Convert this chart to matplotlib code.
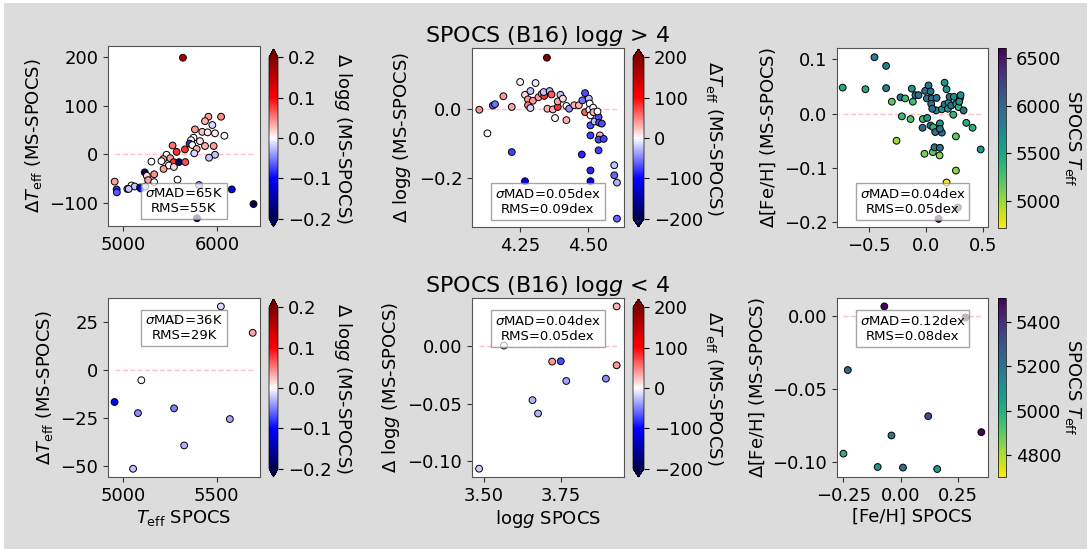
import numpy as np
import matplotlib
matplotlib.use("Agg")
import matplotlib.pyplot as plt
from matplotlib.patches import Rectangle

# ---------------- data: SPOCS (B16) log g > 4 ----------------
# Teff SPOCS, Delta Teff (MS-SPOCS), Delta logg (MS-SPOCS)
teff_hi = [5637, 5908, 6043, 5872, 5950, 5765, 5843, 5900, 5978, 6078,
           5750, 5818, 5723, 5708, 5737, 5872, 5964, 5658, 5783, 5758,
           5978, 5915, 5527, 5570, 5463, 5427, 5502, 5302, 5538, 5594,
           5662, 5409, 5487, 5541, 5431, 5231, 5331, 5253, 5580, 4911,
           5267, 5331, 5089, 5124, 5181, 5046, 5060, 4932, 4934, 5188,
           5238, 5808, 6157, 6388, 5787]
dteff_hi = [198, 77, 77, 68, 60, 51, 46, 45, 43, 38,
            34, 27, 29, 22, 19, 17, 17, 10, 11, 2,
            -1, -7, 18, 5, -1, -10, -8, -15, -16, -16,
            -16, -14, -23, -26, -30, -37, -41, -44, -52, -56,
            -53, -57, -64, -66, -68, -71, -71, -72, -78, -70,
            -66, -63, -72, -102, -131]
dlogg_c_hi = [0.16, 0.038, 0.045, 0.03, -0.015, 0.038, 0.022, 0.008, 0.008, 0.0,
              0.0, 0.008, 0.0, -0.08, 0.0, 0.03, 0.038, 0.08, 0.03, -0.015,
              -0.022, -0.022, 0.055, 0.08, 0.0, 0.03, 0.038, 0.0, 0.08, -0.19,
              0.07, 0.0, 0.0, 0.015, 0.038, -0.20, 0.045, 0.015, 0.0, 0.038,
              0.038, 0.0, 0.0, -0.022, -0.04, -0.05, -0.022, -0.08, -0.065, -0.10,
              -0.03, -0.04, -0.10, -0.20, -0.20]

# logg SPOCS, Delta logg (MS-SPOCS), Delta Teff (MS-SPOCS)
logg_hi = [4.349, 4.099, 4.129, 4.149, 4.157, 4.188, 4.219, 4.219, 4.250, 4.268,
           4.268, 4.288, 4.279, 4.279, 4.288, 4.297, 4.307, 4.318, 4.330, 4.339,
           4.337, 4.359, 4.366, 4.351, 4.371, 4.379, 4.389, 4.389, 4.399, 4.408,
           4.421, 4.421, 4.431, 4.450, 4.467, 4.478, 4.480, 4.490, 4.490, 4.504,
           4.507, 4.506, 4.510, 4.510, 4.510, 4.510, 4.510, 4.520, 4.525, 4.540,
           4.542, 4.545, 4.540, 4.540, 4.552, 4.559, 4.521, 4.536, 4.598, 4.598,
           4.608, 4.608]
dlogg_hi = [0.147, -0.003, -0.071, 0.009, 0.013, 0.036, 0.005, -0.125, 0.077, -0.209,
            0.040, 0.051, 0.027, 0.010, 0.002, 0.023, 0.074, 0.033, 0.043, 0.037,
            0.048, 0.051, 0.041, 0.000, -0.002, -0.027, 0.005, 0.021, 0.040, 0.029,
            0.008, -0.033, 0.000, 0.010, 0.010, -0.132, 0.024, 0.045, -0.010, 0.029,
            0.015, -0.003, -0.019, -0.048, -0.077, -0.178, -0.209, 0.003, -0.037, -0.024,
            -0.040, -0.077, -0.089, -0.120, -0.043, -0.087, -0.010, -0.008, -0.163, -0.192,
            -0.213, -0.317]
dteff_c_hi = [198, 45, 0, -60, -55, 40, 35, -75, 5, -100,
              15, -25, 40, 50, -15, 40, -8, 40, 42, 80,
              -25, -30, 65, 30, 30, 0, 80, 35, -25, 15,
              0, 30, -45, 30, 30, -85, -55, -70, 65, -25,
              0, -8, 0, -70, -75, -85, -110, 0, -25, -70,
              -70, 30, -75, -75, -70, -75, 30, 0, -25, -60,
              -30, -60]

# [Fe/H] SPOCS, Delta [Fe/H] (MS-SPOCS), Teff SPOCS
feh_hi = [-0.453, -0.351, -0.731, -0.532, -0.351, -0.301, -0.225, -0.184, -0.126, -0.117,
          -0.094, -0.067, -0.213, -0.137, -0.260, -0.009, 0.020, 0.038, 0.006, 0.050,
          0.044, 0.091, 0.088, 0.053, -0.029, 0.009, -0.032, 0.038, 0.061, 0.120,
          0.079, 0.137, 0.120, -0.015, 0.058, 0.073, 0.120, 0.117, 0.137, 0.161,
          0.178, 0.161, 0.196, 0.190, 0.219, 0.205, 0.243, 0.263, 0.284, 0.295,
          0.301, 0.289, 0.327, 0.237, 0.260, 0.351, 0.406, 0.477, 0.260, 0.178,
          0.278, 0.108]
dfeh_hi = [0.104, 0.088, 0.048, 0.045, 0.047, 0.022, 0.030, 0.028, 0.046, 0.022,
           0.034, 0.034, -0.005, -0.010, -0.050, 0.042, 0.052, 0.041, 0.028, 0.028,
           0.018, 0.029, 0.006, 0.009, -0.010, -0.008, -0.026, -0.022, -0.025, -0.018,
           -0.034, -0.035, -0.028, -0.074, -0.071, -0.062, -0.063, -0.077, 0.008, 0.057,
           0.045, 0.017, 0.020, 0.009, 0.015, 0.031, 0.031, 0.018, 0.012, 0.028,
           0.034, 0.022, 0.006, -0.002, -0.042, -0.017, -0.026, -0.066, -0.105, -0.127,
           -0.173, -0.194]
teff_c_hi = [5800, 5800, 5450, 5450, 5800, 5200, 5950, 5300, 5600, 5300,
             5900, 5900, 5300, 5250, 5000, 5950, 5850, 5900, 5900, 5900,
             5900, 5900, 5700, 5900, 5300, 5600, 5950, 5900, 5350, 5600,
             5900, 5900, 5900, 5100, 5200, 5900, 5900, 5050, 5650, 5600,
             5600, 5900, 5650, 5650, 5900, 5900, 5650, 5650, 5350, 5900,
             5650, 5650, 5900, 5350, 5200, 5450, 5400, 5600, 5050, 4715,
             6200, 6605]

# ---------------- data: SPOCS (B16) log g < 4 ----------------
teff_lo = [4955, 5098, 5054, 5080, 5273, 5327, 5523, 5571, 5693, 5273]
dteff_lo = [-16.8, -5.4, -51.7, -22.6, -20.1, -39.5, 33.2, -25.7, 19.4, 26.6]
dlogg_c_lo = [-0.10, 0.0, -0.025, -0.045, -0.05, -0.03, -0.015, -0.035, 0.035, 0.0]

logg_lo = [3.484, 3.565, 3.658, 3.676, 3.722, 3.750, 3.768, 3.897, 3.932, 3.932]
dlogg_lo = [-0.1064, 0.0003, -0.047, -0.0586, -0.0136, -0.0133, -0.0304, -0.0284, 0.0342, -0.0168]
dteff_c_lo = [-20, 10, -30, -30, 40, -70, -35, -45, 30, 40]

feh_lo = [-0.071, 0.282, -0.230, 0.120, 0.351, -0.040, -0.249, -0.100, 0.010, 0.159]
dfeh_lo = [0.0069, -0.0007, -0.0369, -0.0687, -0.0797, -0.0820, -0.0945, -0.1037, -0.1041, -0.1051]
teff_c_lo = [5500, 5500, 5230, 5300, 5500, 5180, 4990, 5090, 5220, 5080]

stats_text = ["$\\sigma$MAD=65K\nRMS=55K", "$\\sigma$MAD=0.05dex\nRMS=0.09dex",
              "$\\sigma$MAD=0.04dex\nRMS=0.05dex", "$\\sigma$MAD=36K\nRMS=29K",
              "$\\sigma$MAD=0.04dex\nRMS=0.05dex", "$\\sigma$MAD=0.12dex\nRMS=0.08dex"]

# ---------------- figure ----------------
W, H = 1087, 550
fig = plt.figure(figsize=(W / 100, H / 100), dpi=100, facecolor="white")
fig.patches.append(Rectangle((4 / W, 1 / H), 1 - 4 / W, 1 - 4 / H,
                             transform=fig.transFigure, facecolor="#dcdcdc",
                             edgecolor="none", zorder=-10))

FS = 13


def box(x0, y0, x1, y1):
    return [x0 / W, 1 - y1 / H, (x1 - x0) / W, (y1 - y0) / H]


def panel(ax_rect, cax_rect, x, y, c, cmap, vmin, vmax, extend, xlim, ylim,
          xticks, yticks, xfmt, yfmt, ylabel, clabel, cticks, cfmt, text, ty,
          xlabel=None, title=None):
    ax = fig.add_axes(box(*ax_rect))
    cax = fig.add_axes(box(*cax_rect))
    sc = ax.scatter(x, y, c=c, cmap=cmap, vmin=vmin, vmax=vmax, s=24,
                    edgecolors="black", linewidths=0.7, zorder=2)
    ax.plot([np.min(x), np.max(x)], [0, 0], ls="--", color="pink", lw=1.0, zorder=1)
    ax.set_xlim(*xlim)
    ax.set_ylim(*ylim)
    ax.set_xticks(xticks)
    ax.set_yticks(yticks)
    ax.set_xticklabels([xfmt.format(v).replace("-", "\u2212") for v in xticks])
    ax.set_yticklabels([yfmt.format(v).replace("-", "\u2212") for v in yticks])
    ax.tick_params(labelsize=FS, color="#333333")
    for sp in ax.spines.values():
        sp.set_color("#555555")
    ax.set_ylabel(ylabel, fontsize=FS)
    if xlabel:
        ax.set_xlabel(xlabel, fontsize=FS, labelpad=2)
    if title:
        ax.set_title(title, fontsize=16, pad=4)
    ax.text(0.5, ty, text, transform=ax.transAxes, ha="center", va="center",
            fontsize=9.5, zorder=5,
            bbox=dict(boxstyle="square,pad=0.3", facecolor="white",
                      edgecolor="0.5", alpha=0.7))
    cb = fig.colorbar(sc, cax=cax, extend=extend)
    cb.set_ticks(cticks)
    cb.set_ticklabels([cfmt.format(v).replace("-", "\u2212") for v in cticks])
    cb.ax.tick_params(labelsize=FS)
    cb.outline.set_linewidth(0.5)
    cb.set_label(clabel, rotation=270, fontsize=FS, labelpad=16)
    return ax


dT_lab = "$\\Delta T_{\\rm eff}$ (MS-SPOCS)"
dg_lab = "$\\Delta$ log$g$ (MS-SPOCS)"
df_lab = "$\\Delta$[Fe/H] (MS-SPOCS)"
tc_lab = "SPOCS $T_{\\rm eff}$"

# top row: log g > 4
panel((108, 46, 260, 226), (269, 49, 278, 227), teff_hi, dteff_hi, dlogg_c_hi,
      "seismic", -0.2, 0.2, "both", (4840, 6457), (-147, 222),
      [5000, 6000], [-100, 0, 100, 200], "{:.0f}", "{:.0f}", dT_lab, dg_lab,
      [-0.2, -0.1, 0.0, 0.1, 0.2], "{:.1f}", stats_text[0], 0.14)
panel((472, 48, 624, 227), (633, 49, 644, 227), logg_hi, dlogg_hi, dteff_c_hi,
      "seismic", -200, 200, "both", (4.072, 4.634), (-0.341, 0.175),
      [4.25, 4.50], [-0.2, 0.0], "{:.2f}", "{:.1f}", dg_lab, dT_lab,
      [-200, -100, 0, 100, 200], "{:.0f}", stats_text[1], 0.14,
      title="SPOCS (B16) log$g$ > 4")
panel((837, 48, 988, 227), (998, 48, 1006, 228), feh_hi, dfeh_hi, teff_c_hi,
      "viridis_r", 4715, 6605, "neither", (-0.781, 0.541), (-0.209, 0.121),
      [-0.5, 0.0, 0.5], [-0.2, -0.1, 0.0, 0.1], "{:.1f}", "{:.1f}", df_lab, tc_lab,
      [5000, 5500, 6000, 6500], "{:.0f}", stats_text[2], 0.14)

# bottom row: log g < 4
panel((108, 298, 260, 477), (269, 299, 278, 477), teff_lo, dteff_lo, dlogg_c_lo,
      "seismic", -0.2, 0.2, "both", (4920, 5732), (-56, 37.6),
      [5000, 5500], [-50, -25, 0, 25], "{:.0f}", "{:.0f}", dT_lab, dg_lab,
      [-0.2, -0.1, 0.0, 0.1, 0.2], "{:.1f}", stats_text[3], 0.83,
      xlabel="$T_{\\rm eff}$ SPOCS")
panel((472, 298, 624, 477), (633, 299, 644, 477), logg_lo, dlogg_lo, dteff_c_lo,
      "seismic", -200, 200, "both", (3.461, 3.956), (-0.1136, 0.0415),
      [3.50, 3.75], [-0.10, -0.05, 0.00], "{:.2f}", "{:.2f}", dg_lab, dT_lab,
      [-200, -100, 0, 100, 200], "{:.0f}", stats_text[4], 0.83,
      xlabel="log$g$ SPOCS", title="SPOCS (B16) log$g$ < 4")
panel((837, 298, 988, 477), (998, 298, 1006, 477), feh_lo, dfeh_lo, teff_c_lo,
      "viridis_r", 4700, 5508, "neither", (-0.277, 0.380), (-0.1106, 0.0127),
      [-0.25, 0.0, 0.25], [-0.10, -0.05, 0.00], "{:.2f}", "{:.2f}", df_lab, tc_lab,
      [4800, 5000, 5200, 5400], "{:.0f}", stats_text[5], 0.83,
      xlabel="[Fe/H] SPOCS")

fig.savefig("out.png", dpi=100, facecolor=fig.get_facecolor())
